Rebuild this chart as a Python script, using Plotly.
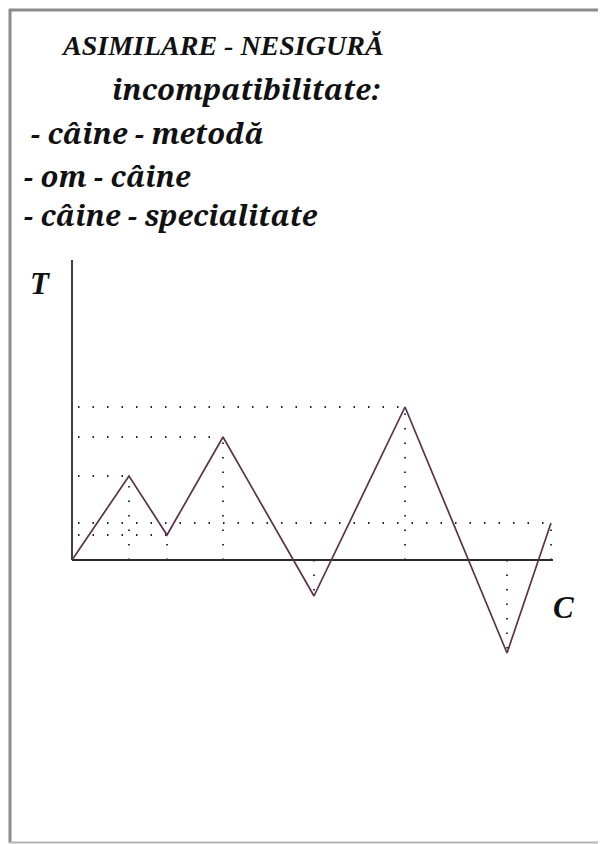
import plotly.graph_objects as go

# ---- data (C = horizontal, T = vertical) ----
C_vals = [0.0, 5.7, 9.5, 15.1, 24.2, 33.3, 43.5, 47.9]
T_vals = [0.0, 8.4, 2.5, 12.3, -3.6, 15.3, -9.3, 3.7]
axis_T_max = 30.0
axis_C_max = 48.1

title_text = "ASIMILARE - NESIGURĂ"
sub_text = "incompatibilitate:"
items = ["- câine - metodă", "- om - câine", "- câine - specialitate"]
x_label = "C"
y_label = "T"

OFF = 8  # page body margin
W, H = 606 - OFF, 844 - OFF
# pixel mapping (page pixels): origin at (72, 560), 10 px per unit
X0, Y0, S = 72 - OFF, 560 - OFF, 10.0
xr = [(0 - X0) / S, (W - X0) / S]
yr = [(Y0 - H) / S, (Y0 - 0) / S]

def px(x):
    return (x - OFF) / W

def py(y):
    return 1 - (y - OFF) / H

fig = go.Figure()

# dotted guide lines derived from vertices
dot_style = dict(color="#222", width=1.8, dash="1.5px,13px")
for c, t in zip(C_vals[1:], T_vals[1:]):
    fig.add_trace(go.Scatter(x=[c, c], y=[0, t], mode="lines", line=dot_style,
                             hoverinfo="skip", showlegend=False))
    if t > 0:
        fig.add_trace(go.Scatter(x=[0.6, c], y=[t, t], mode="lines", line=dot_style,
                                 hoverinfo="skip", showlegend=False))

# axes
fig.add_trace(go.Scatter(x=[0, 0], y=[0, axis_T_max], mode="lines",
                         line=dict(color="#2a2a2a", width=1.8), hoverinfo="skip", showlegend=False))
fig.add_trace(go.Scatter(x=[0, axis_C_max], y=[0, 0], mode="lines",
                         line=dict(color="#2a2a2a", width=2), hoverinfo="skip", showlegend=False))

# zig-zag line
fig.add_trace(go.Scatter(x=C_vals, y=T_vals, mode="lines",
                         line=dict(color="#5a3345", width=1.7), showlegend=False))

TIMES = "Liberation Serif"
GEORGIA = "Noto Serif"
ann = []
def text(t, x, y, size, family, anchor="left"):
    ann.append(dict(text=f"<b><i>{t}</i></b>", x=px(x), y=py(y), xref="paper", yref="paper",
                    xanchor=anchor, yanchor="middle", showarrow=False,
                    font=dict(size=size, family=family, color="#111")))

text(title_text, 59, 46, 28, TIMES)
text(sub_text, 110, 89, 29, GEORGIA)
text(items[0], 29, 132, 29, GEORGIA)
text(items[1], 22, 175, 29, GEORGIA)
text(items[2], 22, 214, 29, GEORGIA)
text(y_label, 28, 283, 31, TIMES)
text(x_label, 551, 607, 31, TIMES)

border = dict(color="#8c8c8c", width=3)
shapes = [
    dict(type="line", xref="paper", yref="paper", x0=px(9), x1=px(604), y0=py(10), y1=py(10), line=border),
    dict(type="line", xref="paper", yref="paper", x0=px(10), x1=px(10), y0=py(9), y1=py(843), line=border),
    dict(type="line", xref="paper", yref="paper", x0=px(9), x1=px(606), y0=py(842.5), y1=py(842.5),
         line=dict(color="#b5b5b5", width=2)),
    dict(type="line", xref="paper", yref="paper", x0=px(602), x1=px(602), y0=py(12), y1=py(843),
         line=dict(color="#e2e2e2", width=1)),
]

fig.update_layout(
    width=W, height=H,
    margin=dict(l=0, r=0, t=0, b=0),
    paper_bgcolor="white", plot_bgcolor="white",
    xaxis=dict(range=xr, visible=False, domain=[0, 1], fixedrange=True),
    yaxis=dict(range=yr, visible=False, domain=[0, 1], fixedrange=True),
    annotations=ann,
    shapes=shapes,
)

fig.write_html("out.html")
